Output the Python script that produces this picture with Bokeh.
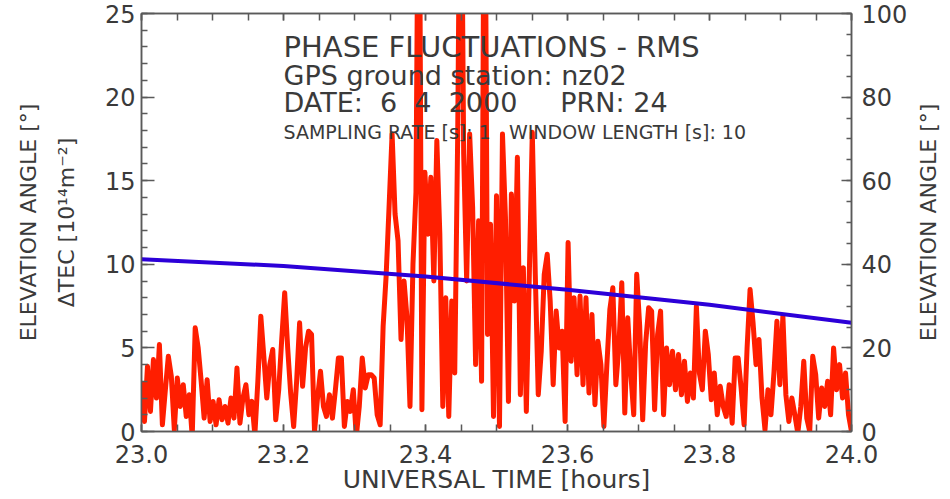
import numpy as np
from bokeh.plotting import figure
from bokeh.layouts import row
from bokeh.models import (Range1d, LinearAxis, SingleIntervalTicker, PrintfTickFormatter,
                          Label, CustomJSTickFormatter, FixedTicker)
from bokeh.embed import file_html
from bokeh.resources import INLINE

# ---------------- data ----------------
t_start, t_end = 23.0, 24.0          # universal time [hours]
dtec_rms = [
    3.0, 0.6, 3.9, 1.2, 4.3, 2.0, 5.2, 0.4, 2.5, 4.5,
    3.3, 0.1, 3.2, 1.5, 2.8, 0.9, 2.2, -0.3, 6.2, 5.0,
    3.0, 0.8, 3.1, 0.6, 1.8, 0.4, 1.9, 0.7, 1.5, 0.5,
    2.0, 0.8, 3.8, 0.5, 2.0, 2.8, 1.0, 1.8, -0.2, 3.0,
    6.9, 4.5, 2.0, 4.0, 4.9, 0.7, 2.5, 5.5, 8.3, 5.0,
    2.3, 0.3, 3.0, 6.5, 2.7, 5.0, 6.0, 5.8, 0.0, 2.0,
    3.6, 1.5, 0.9, 2.2, 0.8, 2.5, 4.4, 4.4, 0.3, 1.8,
    1.2, 2.5, -0.3, 1.5, 4.4, 2.6, 3.4, 3.4, 3.2, 1.0,
    0.4, 6.3, 9.3, 13.5, 17.8, 13.0, 11.4, 5.5, 9.0, 6.8,
    1.5, 10.0, 14.3, 40.0, 1.3, 15.5, 11.8, 15.2, 9.0, 17.4,
    11.8, 1.5, 8.0, 0.9, 7.8, 3.5, 17.8, 40.0, 16.6, 9.0,
    17.8, 13.4, 4.0, 12.6, 3.0, 40.0, 5.8, 12.4, 0.9, 14.1,
    0.3, 17.8, 12.8, 1.8, 14.2, 7.8, 16.4, 2.2, 9.8, 1.2,
    9.4, 17.9, 9.4, 2.2, 4.8, 9.4, 10.6, 7.8, 2.8, 7.2,
    5.0, 6.0, 0.6, 11.3, 4.2, 8.0, 3.4, 8.1, 2.8, 8.0,
    2.3, 7.0, 1.6, 5.4, 4.0, 0.3, 4.0, 7.3, 8.6, 2.8,
    5.0, 8.9, 1.1, 6.8, 3.5, 1.0, 9.4, 6.3, 0.7, 5.3,
    7.4, 7.2, 1.3, 5.8, 7.2, 1.0, 5.0, 2.8, 4.8, 2.5,
    4.6, 2.2, 4.2, 1.8, 3.5, 2.0, 7.5, 3.5, 2.5, 6.0,
    4.6, 1.9, 3.5, 1.0, 2.7, 1.5, 0.9, 2.8, 0.5, 4.4,
    4.4, 2.6, 0.4, 5.0, 8.5, 6.5, 4.0, 5.5, 2.0, 0.1,
    2.5, 1.0, 3.5, 6.6, 2.8, 6.9, 2.2, 0.6, 2.0, 1.0,
    -0.1, 1.5, 4.2, 0.8, 0.0, 4.5, 3.4, 0.8, 2.6, 1.5,
    3.0, 1.0, 5.0, 2.5, 4.0, 2.0, 3.5, 1.0, 0.0,
]
time_h = np.linspace(t_start, t_end, len(dtec_rms))   # regular sampling grid

elev_time = [23.0, 23.2, 23.4, 23.6, 23.8, 24.0]
elev_deg = [41.2, 39.6, 37.1, 33.9, 30.3, 26.0]

NB = "\u00a0"
title_lines = [
    "PHASE FLUCTUATIONS - RMS",
    "GPS ground station: nz02",
    "DATE:" + NB * 2 + "6" + NB * 2 + "4" + NB * 2 + "2000" + NB * 5 + "PRN: 24",
    "SAMPLING RATE [s]: 1" + NB * 3 + "WINDOW LENGTH [s]: 10",
]
x_title = "UNIVERSAL TIME [hours]"
y_title_tec = "\u0394TEC [10\u00b9\u2074m\u207b\u00b2]"
y_title_elev = "ELEVATION ANGLE [\u00b0]"

# ---------------- styling ----------------
FONT = "DejaVu Sans"
TXT = "#3a3a3a"
AX = "#5a5a5a"
RED = "#ff1e00"
BLUE = "#2c00d8"

p = figure(width=912, height=499, output_backend="svg", toolbar_location=None,
           x_range=Range1d(t_start, t_end), y_range=Range1d(0, 25),
           min_border_left=141, min_border_right=61, min_border_top=13,
           min_border_bottom=68, background_fill_color="white",
           border_fill_color="white")
p.xgrid.visible = False
p.ygrid.visible = False
p.outline_line_color = AX
p.outline_line_width = 1.5
p.extra_y_ranges = {"elev": Range1d(0, 100)}

def style_axis(ax, tick_in, minor_in, font_size="24px"):
    ax.axis_line_color = AX
    ax.axis_line_width = 1.5
    ax.major_tick_line_color = AX
    ax.minor_tick_line_color = AX
    ax.major_tick_line_width = 1.5
    ax.minor_tick_line_width = 1.5
    ax.major_tick_in = tick_in
    ax.major_tick_out = 0
    ax.minor_tick_in = minor_in
    ax.minor_tick_out = 0
    ax.major_label_text_font = FONT
    ax.major_label_text_font_size = font_size
    ax.major_label_text_color = TXT
    ax.axis_label_text_font = FONT
    ax.axis_label_text_font_style = "normal"
    ax.axis_label_text_color = TXT

# bottom axis
xa = p.xaxis[0]
xa.ticker = SingleIntervalTicker(interval=0.2, num_minor_ticks=4)
xa.formatter = PrintfTickFormatter(format="%.1f")
style_axis(xa, 7, 7)
xa.major_label_standoff = 13
xa.axis_label = x_title
xa.axis_label_text_font_size = "25px"
xa.axis_label_standoff = -1

# top axis (ticks only, no labels)
ta = LinearAxis(ticker=SingleIntervalTicker(interval=0.2, num_minor_ticks=4),
                formatter=CustomJSTickFormatter(code="return ''"))
style_axis(ta, 7, 7)
ta.major_label_standoff = 0
p.add_layout(ta, "above")

# left axis: delta TEC
ya = p.yaxis[0]
ya.ticker = SingleIntervalTicker(interval=5, num_minor_ticks=5)
style_axis(ya, 13, 6)
ya.major_label_standoff = 6
ya.axis_label = y_title_tec
ya.axis_label_text_font_size = "22px"
ya.axis_label_standoff = 23

# outer left axis: elevation title only
la2 = LinearAxis(ticker=FixedTicker(ticks=[]))
style_axis(la2, 0, 0)
la2.axis_line_color = None
la2.axis_label = y_title_elev
la2.axis_label_text_font_size = "22px"
la2.axis_label_standoff = 10
p.add_layout(la2, "left")

# right axis: elevation angle ticks
ra = LinearAxis(y_range_name="elev",
                ticker=SingleIntervalTicker(interval=20, num_minor_ticks=4))
style_axis(ra, 10, 5)
ra.major_label_standoff = 10
p.add_layout(ra, "right")

# data
p.line(time_h, dtec_rms, line_width=5, color=RED, line_join="round")
p.line(elev_time, elev_deg, y_range_name="elev", line_width=4, color=BLUE)

# title block inside the frame
for txt, yv, fs in zip(title_lines, [23.0, 21.3, 19.66, 17.9],
                       ["29px", "27px", "27px", "19px"]):
    p.add_layout(Label(x=23.2, y=yv, text=txt, text_font=FONT, text_font_size=fs,
                       text_color=TXT, text_baseline="alphabetic", text_align="left"))

# narrow strip on the right that carries the right-hand axis title (reads bottom to top)
p2 = figure(width=38, height=499, output_backend="svg", toolbar_location=None,
            x_range=Range1d(0, 1), y_range=Range1d(0, 100),
            min_border_left=28, min_border_right=0, min_border_top=13,
            min_border_bottom=68, background_fill_color="white",
            border_fill_color="white", outline_line_color=None)
p2.xgrid.visible = False
p2.ygrid.visible = False
p2.xaxis.visible = False
ay2 = p2.yaxis[0]
ay2.ticker = FixedTicker(ticks=[])
style_axis(ay2, 0, 0)
ay2.axis_line_color = None
ay2.axis_label = y_title_elev
ay2.axis_label_text_font_size = "22px"
ay2.axis_label_standoff = 0

layout = row(p, p2, spacing=0)
open("out.html", "w").write(file_html(layout, INLINE))
